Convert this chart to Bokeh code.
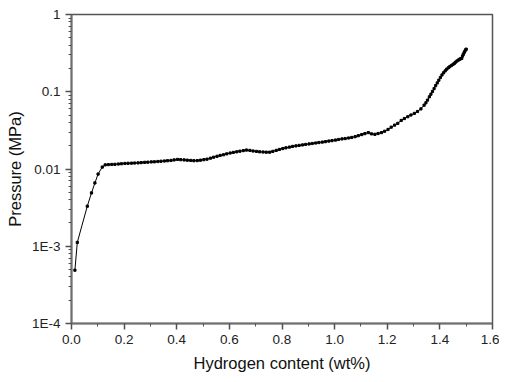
from bokeh.plotting import figure
from bokeh.models import Range1d, FixedTicker, ColumnDataSource
from bokeh.embed import file_html
from bokeh.resources import INLINE

# ---- data ----
hydrogen_wt = [
    0.013, 0.022, 0.060, 0.076, 0.089, 0.101, 0.117, 0.128,
    0.140, 0.153, 0.165, 0.178, 0.190, 0.203, 0.215, 0.228, 0.240, 0.253,
    0.265, 0.278, 0.290, 0.303, 0.315, 0.328, 0.340, 0.353, 0.365, 0.378,
    0.390, 0.403, 0.415, 0.428, 0.440, 0.453, 0.465, 0.478, 0.490, 0.503,
    0.515, 0.528, 0.540, 0.553, 0.565, 0.578, 0.590, 0.603, 0.615, 0.628,
    0.640, 0.653, 0.665, 0.678, 0.690, 0.703, 0.715, 0.728, 0.740, 0.753,
    0.765, 0.778, 0.790, 0.803, 0.815, 0.828, 0.840, 0.853, 0.865, 0.878,
    0.890, 0.903, 0.915, 0.928, 0.940, 0.953, 0.965, 0.978, 0.990, 1.003,
    1.015, 1.028, 1.040, 1.053, 1.065, 1.078, 1.090, 1.103, 1.115, 1.128,
    1.140, 1.153, 1.165, 1.178, 1.190, 1.203, 1.215, 1.228, 1.240, 1.253,
    1.265, 1.278, 1.290, 1.303, 1.315, 1.328, 1.340,
    1.347, 1.353, 1.360, 1.366, 1.372, 1.378, 1.384, 1.390, 1.396, 1.402,
    1.408, 1.414, 1.420, 1.426, 1.432, 1.438, 1.444, 1.450, 1.455, 1.460,
    1.465, 1.470, 1.475, 1.479, 1.483, 1.486, 1.489, 1.492, 1.495, 1.498,
    1.500,
]
pressure_mpa = [
    0.00049, 0.00112, 0.0033, 0.0049, 0.0066, 0.0086, 0.0106, 0.0113,
    0.01140, 0.01145, 0.01150, 0.01160, 0.01170, 0.01180, 0.01185, 0.01190, 0.01195, 0.01200,
    0.01210, 0.01220, 0.01225, 0.01235, 0.01240, 0.01250, 0.01260, 0.01270, 0.01280, 0.01290,
    0.01310, 0.01330, 0.01320, 0.01310, 0.01300, 0.01290, 0.01280, 0.01285, 0.01300, 0.01320,
    0.01340, 0.01380, 0.01420, 0.01460, 0.01500, 0.01530, 0.01570, 0.01610, 0.01640, 0.01670,
    0.01700, 0.01730, 0.01760, 0.01740, 0.01710, 0.01690, 0.01670, 0.01660, 0.01650, 0.01650,
    0.01690, 0.01740, 0.01790, 0.01840, 0.01880, 0.01920, 0.01960, 0.01990, 0.02020, 0.02050,
    0.02080, 0.02110, 0.02140, 0.02170, 0.02200, 0.02230, 0.02260, 0.02300, 0.02330, 0.02370,
    0.02410, 0.02450, 0.02480, 0.02520, 0.02560, 0.02620, 0.02700, 0.02790, 0.02870, 0.02960,
    0.02850, 0.02810, 0.02880, 0.02960, 0.03080, 0.03250, 0.03480, 0.03700, 0.03900, 0.04250,
    0.04500, 0.04750, 0.05000, 0.05250, 0.05550, 0.06000, 0.06700,
    0.0720, 0.0780, 0.0860, 0.0930, 0.1010, 0.1100, 0.1200, 0.1300, 0.1410, 0.1530,
    0.1650, 0.1760, 0.1860, 0.1960, 0.2040, 0.2120, 0.2190, 0.2260, 0.2330, 0.2420,
    0.2500, 0.2570, 0.2630, 0.2680, 0.2700, 0.2900, 0.3050, 0.3200, 0.3350, 0.3480,
    0.3560,
]

x_ticks = [0.0, 0.2, 0.4, 0.6, 0.8, 1.0, 1.2, 1.4, 1.6]
x_tick_labels = ["0.0", "0.2", "0.4", "0.6", "0.8", "1.0", "1.2", "1.4", "1.6"]
x_minor_ticks = [0.1, 0.3, 0.5, 0.7, 0.9, 1.1, 1.3, 1.5]
y_ticks = [0.0001, 0.001, 0.01, 0.1, 1.0]
y_tick_labels = ["1E-4", "1E-3", "0.01", "0.1", "1"]

y_minor_ticks = [m * d for d in y_ticks[:-1] for m in range(2, 10)]

src = ColumnDataSource(data=dict(x=hydrogen_wt, y=pressure_mpa))

p = figure(
    width=499, height=374,
    x_range=Range1d(0, 1.6), y_range=Range1d(1e-4, 1),
    y_axis_type="log",
    output_backend="svg", toolbar_location=None,
    min_border_left=71, min_border_right=7, min_border_top=14, min_border_bottom=50,
)
p.background_fill_color = "white"
p.border_fill_color = "white"
p.grid.visible = False
p.outline_line_color = "#555555"
p.outline_line_width = 1.5

p.line("x", "y", source=src, line_color="black", line_width=1)
p.scatter("x", "y", source=src, marker="square", size=2.2, fill_color="black", line_color="black")

font = "Liberation Sans"
for ax in (p.xaxis[0], p.yaxis[0]):
    ax.axis_line_color = "#707070"
    ax.axis_line_width = 2
    ax.major_tick_line_color = "#505050"
    ax.minor_tick_line_color = "#505050"
    ax.major_tick_line_width = 1.5
    ax.minor_tick_line_width = 1
    ax.major_tick_out = 6
    ax.major_tick_in = 0
    ax.minor_tick_out = 3
    ax.minor_tick_in = 0
    ax.major_label_text_font = font
    ax.major_label_text_font_size = "13.5px"
    ax.major_label_text_color = "#222222"
    ax.axis_label_text_font = font
    ax.axis_label_text_font_size = "16.5px"
    ax.axis_label_text_font_style = "normal"
    ax.axis_label_text_color = "#111111"

p.xaxis[0].ticker = FixedTicker(ticks=x_ticks, minor_ticks=x_minor_ticks)
p.xaxis[0].major_label_overrides = dict(zip(x_ticks, x_tick_labels))
p.xaxis[0].axis_label = "Hydrogen content (wt%)"
p.xaxis[0].major_label_standoff = 5
p.xaxis[0].axis_label_standoff = 7

p.yaxis[0].ticker = FixedTicker(ticks=y_ticks, minor_ticks=y_minor_ticks)
p.yaxis[0].major_label_overrides = dict(zip(y_ticks, y_tick_labels))
p.yaxis[0].axis_label = "Pressure (MPa)"
p.yaxis[0].major_label_standoff = 5
p.yaxis[0].axis_label_standoff = 5

open("out.html", "w").write(file_html(p, INLINE))
